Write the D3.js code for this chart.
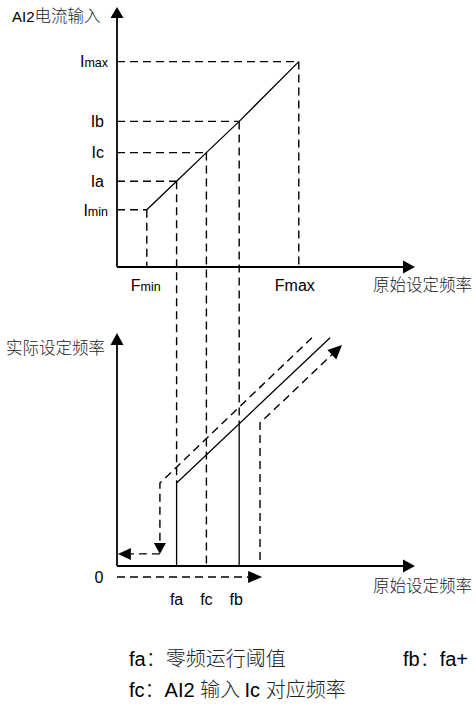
<!DOCTYPE html>
<html>
<head>
<meta charset="utf-8">
<script src="https://cdn.jsdelivr.net/npm/d3@7"></script>
<style>
    body { margin: 0; background: #fff; }
    svg { display: block; }
    .latin { font-family: "Liberation Sans", Arial, sans-serif; fill: #000; }
    .cjk { font-family: "Noto Sans CJK SC", sans-serif; font-weight: 300; fill: #222; }
    .axis { stroke: #000; stroke-width: 1.8; fill: none; }
    .solid { stroke: #000; stroke-width: 1.3; fill: none; }
    .dash { stroke: #000; stroke-width: 1.4; fill: none; stroke-dasharray: 8,5; }
</style>
</head>
<body>
<div id="chart"></div>
<script>
/*
 * Top chart: AI2 current input against the original frequency.
 */
var currentLabels = ['Imin', 'Ia', 'Ic', 'Ib', 'Imax'];
var currentFreqs  = [10, 20, 30, 41, 61];
var currentValues = [22, 33, 44, 56, 79];
var topFreqLabels = ['Fmin', 'Fmax'];
var topFreqValues = [10, 61];
/*
 * Bottom chart: actual frequency against the original frequency.
 */
var bottomFreqLabels = ['fa', 'fc', 'fb'];
var bottomFreqValues = [20, 30, 41];
var solidTrace  = [{x: 20, y: 0}, {x: 20, y: 35.6}, {x: 71.5, y: 98}];
var fbTrace     = [{x: 41, y: 0}, {x: 41, y: 61}];
var fallTrace   = [{x: 65.4, y: 98}, {x: 14.4, y: 35.6}, {x: 14.4, y: 5.2}];
var zeroTrace   = [{x: 14.4, y: 5.2}, {x: 0.3, y: 5.2}];
var riseTrace   = [{x: 48, y: 2.6}, {x: 48, y: 61.4}, {x: 75.5, y: 94.8}];
var startTrace  = [{x: 0, y: -4.7}, {x: 48.7, y: -4.7}];
/*
 * Where the projections from the top chart end in the bottom one.
 */
var projectionEnds = [null, 35.6, -1, 61, null];
/*
 * Texts.
 */
var topYTitle    = ['AI2', '电流输入'];
var xTitle       = '原始设定频率';
var bottomYTitle = '实际设定频率';
var legendLines  = [
    [['fa', 'latin'], ['：零频运行阈值', 'cjk']],
    [['fc', 'latin'], ['：', 'cjk'], ['AI2 ', 'latin'], ['输入 ', 'cjk'], ['Ic ', 'latin'], ['对应频率', 'cjk']]
];
var legendRight  = [['fb', 'latin'], ['：', 'cjk'], ['fa+', 'latin'], ['零频运行回差', 'cjk']];


var width = 476, height = 712;

var svg = d3.select('#chart').append('svg')
    .attr('width', width)
    .attr('height', height);

/*
 * Scales.
 */
var x    = d3.scaleLinear().domain([0, 100]).range([117, 415]);
var yTop = d3.scaleLinear().domain([0, 100]).range([267, 7]);
var yBot = d3.scaleLinear().domain([0, 100]).range([566, 333]);

var lineTop = d3.line().x(d => x(d.x)).y(d => yTop(d.y));
var lineBot = d3.line().x(d => x(d.x)).y(d => yBot(d.y));


/**
 * Draw a filled arrow head.
 * @param {Number[]} from point the arrow comes from
 * @param {Number[]} tip  arrow tip
 * @param {Number} len
 * @param {Number} half
 * @returns {Number[]} base centre of the head
 */
function arrowHead(from, tip, len, half) {
    var dx = tip[0] - from[0], dy = tip[1] - from[1];
    var n = Math.sqrt(dx * dx + dy * dy);
    var ux = dx / n, uy = dy / n;
    var bx = tip[0] - ux * len, by = tip[1] - uy * len;
    svg.append('polygon')
        .attr('points', [
            tip,
            [bx - uy * half, by + ux * half],
            [bx + uy * half, by - ux * half]
        ].map(p => p.join(',')).join(' '))
        .attr('fill', '#000');
    return [bx, by];
}


/**
 * Draw a line of pixel points, optionally with an arrow at its end.
 */
function trace(points, cls, arrow) {
    if (arrow) {
        var n = points.length;
        var base = arrowHead(points[n - 2], points[n - 1], arrow[0], arrow[1]);
        points = points.slice(0, n - 1).concat([base]);
    }
    svg.append('path')
        .attr('class', cls)
        .attr('d', d3.line()(points));
}


/*
 * Axes.
 */
trace([[x(0), yTop(0)], [x(0), yTop(100)]], 'axis', [11, 6.5]);
trace([[x(0), yTop(0)], [x(100), yTop(0)]], 'axis', [12, 6.5]);
trace([[x(0), yBot(0)], [x(0), yBot(100)]], 'axis', [12, 6.5]);
trace([[x(0), yBot(0)], [x(100), yBot(0)]], 'axis', [12, 6.5]);

/*
 * Top chart trace and projections.
 */
var curve = currentFreqs.map((f, i) => ({x: f, y: currentValues[i]}));
svg.append('path').attr('class', 'solid').attr('d', lineTop(curve));

currentValues.forEach(function(v, i) {
    svg.append('path').attr('class', 'dash')
        .attr('d', lineTop([{x: 0, y: v}, {x: currentFreqs[i], y: v}]));
    var yEnd = projectionEnds[i] === null ? yTop(0) : yBot(projectionEnds[i]);
    svg.append('path').attr('class', 'dash')
        .attr('d', d3.line()([[x(currentFreqs[i]), yTop(v)], [x(currentFreqs[i]), yEnd]]));
});

/*
 * Bottom chart traces.
 */
svg.append('path').attr('class', 'solid').attr('d', lineBot(solidTrace));
svg.append('path').attr('class', 'solid').attr('d', lineBot(fbTrace));

var px = d => [x(d.x), yBot(d.y)];
trace(fallTrace.map(px), 'dash', [11, 6]);
trace(zeroTrace.map(px), 'dash', [13, 6]);
trace(riseTrace.map(px), 'dash', [14, 6.5]);
trace(startTrace.map(px), 'dash', [14, 6]);


/**
 * Append a text made of latin / cjk runs.
 */
function runs(parent, parts, sizes) {
    parts.forEach(function(p) {
        parent.append('tspan')
            .attr('class', p[1])
            .style('font-size', sizes[p[1]] + 'px')
            .text(p[0]);
    });
}

/*
 * Current tick labels with small subscripts.
 */
currentLabels.forEach(function(label, i) {
    var t = svg.append('text')
        .attr('x', label.length > 2 ? 108 : 104)
        .attr('y', yTop(currentValues[i]))
        .attr('dy', '0.36em')
        .attr('text-anchor', 'end')
        .attr('class', 'latin');
    t.append('tspan').style('font-size', '16px').text(label[0]);
    t.append('tspan').style('font-size', label.length > 2 ? '12.5px' : '16px').text(label.slice(1));
});

topFreqLabels.forEach(function(label, i) {
    var t = svg.append('text')
        .attr('x', x(topFreqValues[i]) - (label === 'Fmax' ? 4 : 1))
        .attr('y', 291)
        .attr('text-anchor', 'middle')
        .attr('class', 'latin');
    t.append('tspan').style('font-size', '16px').text(label[0]);
    t.append('tspan').style('font-size', label === 'Fmin' ? '12.5px' : '16px').text(label.slice(1));
});

bottomFreqLabels.forEach(function(label, i) {
    svg.append('text')
        .attr('x', x(bottomFreqValues[i]) - (label === 'fb' ? 3 : 0))
        .attr('y', 605)
        .attr('text-anchor', 'middle')
        .attr('class', 'latin')
        .style('font-size', '16px')
        .text(label);
});

svg.append('text')
    .attr('x', 99).attr('y', 583)
    .attr('text-anchor', 'middle')
    .attr('class', 'latin')
    .style('font-size', '16px')
    .text('0');

/*
 * Axis titles.
 */
var t1 = svg.append('text').attr('x', 12).attr('y', 22);
runs(t1, [[topYTitle[0], 'latin'], [topYTitle[1], 'cjk']], {latin: 15, cjk: 16.5});

svg.append('text').attr('x', 373).attr('y', 291)
    .attr('class', 'cjk').style('font-size', '16.5px').text(xTitle);
svg.append('text').attr('x', 373).attr('y', 592)
    .attr('class', 'cjk').style('font-size', '16.5px').text(xTitle);
svg.append('text').attr('x', 6).attr('y', 354)
    .attr('class', 'cjk').style('font-size', '16.5px').text(bottomYTitle);

/*
 * Legend.
 */
legendLines.forEach(function(parts, i) {
    var t = svg.append('text').attr('x', 129).attr('y', 666 + i * 31);
    runs(t, parts, {latin: 20, cjk: 20});
});
var tr = svg.append('text').attr('x', 403).attr('y', 666);
runs(tr, legendRight, {latin: 20, cjk: 20});
/*
 * The reference page cuts this line at its right edge.
 */
tr.select('tspan:last-child').attr('dx', 11);
</script>
</body>
</html>
